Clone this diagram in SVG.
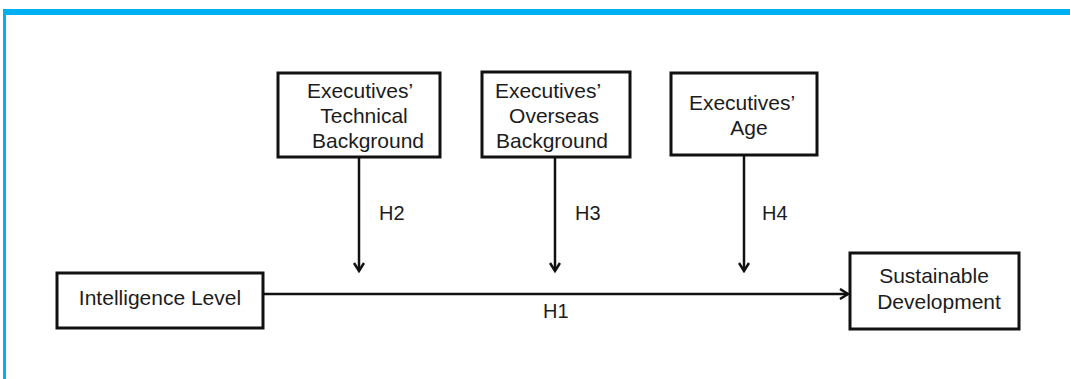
<svg xmlns="http://www.w3.org/2000/svg" width="1070" height="379" viewBox="0 0 1070 379">
  <style>
    .box { fill: #ffffff; stroke: #111111; stroke-width: 3; }
    .lbl { font-family: "Liberation Sans", Arial, sans-serif; font-size: 21px; fill: #1c1c1c; }
    .hyp { font-family: "Liberation Sans", Arial, sans-serif; font-size: 20px; fill: #1c1c1c; }
    .wire { stroke: #111111; stroke-width: 2.5; fill: none; }
  </style>
  <defs>
    <marker id="chev" viewBox="0 0 12 12" refX="10" refY="6" markerWidth="12" markerHeight="12" markerUnits="userSpaceOnUse" orient="auto">
      <path d="M2,1 L10,6 L2,11" fill="none" stroke="#111111" stroke-width="2.5" stroke-linejoin="miter"/>
    </marker>
  </defs>

  <!-- frame -->
  <rect x="0" y="0" width="1070" height="379" fill="#ffffff"/>
  <path d="M4.5,379 V12 H1070" fill="none" stroke="#00b0f0" stroke-width="3"/>
  <rect x="3" y="9" width="1067" height="6" fill="#00b0f0"/>

  <!-- connectors -->
  <g id="connectors">
    <line class="wire" x1="263" y1="294" x2="848" y2="294" marker-end="url(#chev)"/>
    <line class="wire" x1="359" y1="157" x2="359" y2="271" marker-end="url(#chev)"/>
    <line class="wire" x1="555" y1="157" x2="555" y2="271" marker-end="url(#chev)"/>
    <line class="wire" x1="744" y1="155" x2="744" y2="271" marker-end="url(#chev)"/>
    <text class="hyp" x="543" y="318">H1</text>
    <text class="hyp" x="379" y="220">H2</text>
    <text class="hyp" x="575" y="220">H3</text>
    <text class="hyp" x="762" y="220">H4</text>
  </g>

  <g id="technical">
    <rect class="box" x="278" y="73" width="162" height="84"/>
    <text class="lbl" x="360" y="98" text-anchor="middle">Executives’</text>
    <text class="lbl" x="364" y="123" text-anchor="middle">Technical</text>
    <text class="lbl" x="368" y="148" text-anchor="middle">Background</text>
  </g>

  <g id="overseas">
    <rect class="box" x="482" y="72" width="148" height="85"/>
    <text class="lbl" x="548" y="98" text-anchor="middle">Executives’</text>
    <text class="lbl" x="554" y="123" text-anchor="middle">Overseas</text>
    <text class="lbl" x="552" y="148" text-anchor="middle">Background</text>
  </g>

  <g id="age">
    <rect class="box" x="671" y="73" width="146" height="82"/>
    <text class="lbl" x="742" y="110" text-anchor="middle">Executives’</text>
    <text class="lbl" x="749" y="135" text-anchor="middle">Age</text>
  </g>

  <g id="intelligence">
    <rect class="box" x="57" y="273" width="206" height="55"/>
    <text class="lbl" x="160" y="305" text-anchor="middle">Intelligence Level</text>
  </g>

  <g id="sustainable">
    <rect class="box" x="850" y="253" width="169" height="76"/>
    <text class="lbl" x="934" y="283" text-anchor="middle">Sustainable</text>
    <text class="lbl" x="939" y="309" text-anchor="middle">Development</text>
  </g>
</svg>
